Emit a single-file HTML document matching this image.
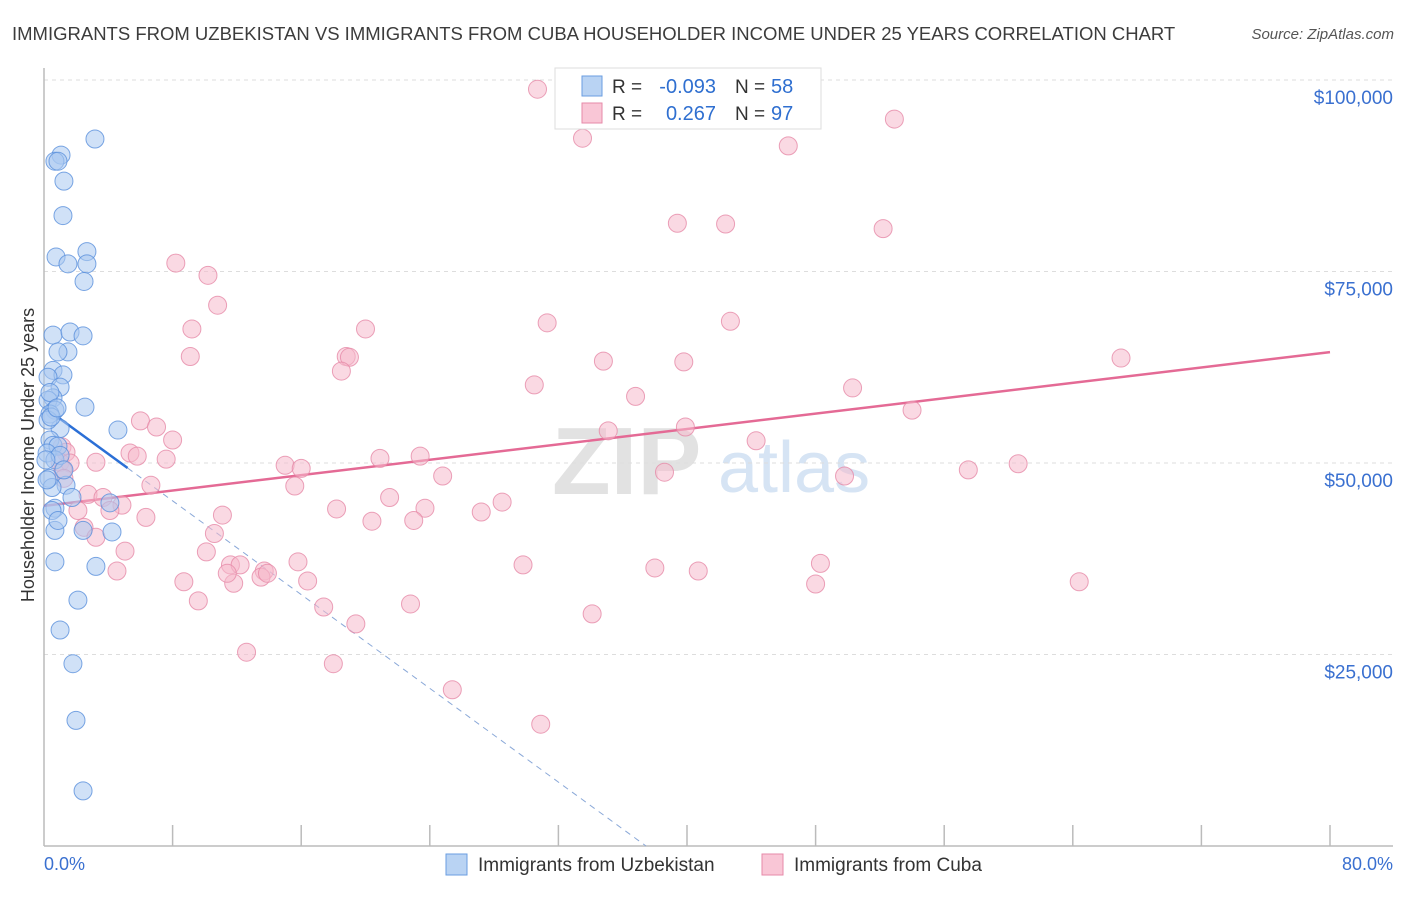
<!DOCTYPE html>
<html><head><meta charset="utf-8">
<style>
body{margin:0;background:#fff;font-family:"Liberation Sans",sans-serif;}
svg text{font-family:"Liberation Sans",sans-serif;}
</style></head>
<body>
<svg id="chart" width="1406" height="892" xmlns="http://www.w3.org/2000/svg">
<text x="12" y="40" font-size="18.5" fill="#3c3c3c">IMMIGRANTS FROM UZBEKISTAN VS IMMIGRANTS FROM CUBA HOUSEHOLDER INCOME UNDER 25 YEARS CORRELATION CHART</text>
<text x="1394" y="39" font-size="15" fill="#555" font-style="italic" text-anchor="end">Source: ZipAtlas.com</text>
<g>
<text x="552" y="494" font-size="96" fill="#e2e2e2" font-family="Liberation Serif" font-weight="bold">ZIP</text>
<text x="718" y="492" font-size="72" fill="#d6e4f4">atlas</text>
</g>
<g id="grid"></g>
<g id="axes"></g>
<g id="trends"></g>
<g id="points"></g>
<text transform="translate(34,455) rotate(-90)" font-size="18" fill="#333" text-anchor="middle">Householder Income Under 25 years</text>
<text x="44" y="870" font-size="18" fill="#3a70d0">0.0%</text>
<text x="1393" y="870" font-size="18" fill="#3a70d0" text-anchor="end">80.0%</text>
<g>
<rect x="555" y="68" width="266" height="61" fill="#fff" stroke="#ddd"/>
<rect x="582" y="76" width="20" height="20" fill="#b9d3f3" stroke="#6a9ee0"/>
<rect x="582" y="103" width="20" height="20" fill="#f9c6d6" stroke="#e68aa8"/>
<text x="612" y="93" font-size="19" fill="#333">R =</text>
<text x="716" y="93" font-size="20" fill="#2f6fd0" text-anchor="end">-0.093</text>
<text x="735" y="93" font-size="19" fill="#333">N =</text>
<text x="771" y="93" font-size="20" fill="#2f6fd0">58</text>
<text x="612" y="120" font-size="19" fill="#333">R =</text>
<text x="716" y="120" font-size="20" fill="#2f6fd0" text-anchor="end">0.267</text>
<text x="735" y="120" font-size="19" fill="#333">N =</text>
<text x="771" y="120" font-size="20" fill="#2f6fd0">97</text>
</g>
<g>
<rect x="446" y="854" width="21" height="21" fill="#b9d3f3" stroke="#6a9ee0"/>
<text x="478" y="871" font-size="19" fill="#333">Immigrants from Uzbekistan</text>
<rect x="762" y="854" width="21" height="21" fill="#f9c6d6" stroke="#e68aa8"/>
<text x="794" y="871" font-size="19" fill="#333">Immigrants from Cuba</text>
</g>
</svg>
<script>
const yTicks=[25000,50000,75000,100000];
const yTickLabels=["$25,000","$50,000","$75,000","$100,000"];
const xTicks=[0,8,16,24,32,40,48,56,64,72,80];
const blueX=[3.17,1.06,0.68,0.87,1.24,1.18,0.75,1.49,2.67,2.67,2.49,0.56,1.62,2.43,1.49,0.87,0.56,1.18,0.25,1.0,0.56,0.25,2.55,0.68,0.37,1.0,4.6,0.37,0.56,0.87,0.19,0.68,0.31,1.37,0.5,1.74,4.1,0.68,2.43,0.68,4.23,0.68,3.23,2.11,1.0,1.8,1.99,2.43,0.25,0.19,0.44,1.0,0.5,0.87,1.24,0.12,0.37,0.81];
const blueY=[92.3,90.2,89.4,89.4,86.8,82.3,76.9,76.0,77.6,76.0,73.7,66.7,67.1,66.6,64.5,64.5,62.1,61.5,61.2,59.9,58.5,58.2,57.3,56.9,56.4,54.5,54.3,53.0,52.3,52.2,51.3,50.4,48.0,47.1,46.8,45.5,44.8,44.1,41.2,41.2,41.0,37.1,36.5,32.1,28.2,23.8,16.4,7.2,55.6,47.8,56.0,51.0,43.8,42.5,49.1,50.4,59.2,57.2];
const pinkX=[30.7,33.5,46.3,52.9,39.4,42.4,52.2,8.2,10.2,10.8,9.2,20.0,31.3,42.7,9.1,18.8,19.0,18.5,34.8,39.8,30.5,36.8,50.3,67.0,54.0,6.0,7.0,8.0,35.1,39.9,44.3,5.35,5.8,7.6,1.12,1.37,1.0,1.62,3.23,15.0,16.0,20.9,23.4,24.8,38.6,57.5,60.6,49.8,1.18,1.24,6.65,15.6,2.74,3.67,4.85,21.5,23.7,28.5,4.1,2.11,6.34,18.2,27.2,11.1,20.4,23.0,2.49,3.23,10.6,5.04,10.1,15.8,11.6,12.2,13.7,4.54,13.5,11.8,8.7,16.4,9.6,17.4,22.8,29.8,38.0,40.7,48.3,48.0,64.4,34.1,19.4,12.6,18.0,25.4,30.9,13.9,11.4];
const pinkY=[98.8,92.4,91.4,94.9,81.3,81.2,80.6,76.1,74.5,70.6,67.5,67.5,68.3,68.5,63.9,63.9,63.8,62.0,63.3,63.2,60.2,58.7,59.8,63.7,56.9,55.5,54.7,53.0,54.2,54.7,52.9,51.3,50.9,50.5,52.1,51.4,50.1,50.0,50.1,49.7,49.3,50.6,50.9,48.3,48.8,49.1,49.9,48.3,49.1,48.0,47.1,47.0,45.9,45.5,44.5,45.5,44.1,44.9,43.8,43.8,42.9,44.0,43.6,43.2,42.4,42.5,41.6,40.3,40.8,38.5,38.4,37.1,36.7,36.7,35.9,35.9,35.1,34.3,34.5,34.6,32.0,31.2,31.6,36.7,36.3,35.9,36.9,34.2,34.5,30.3,29.0,25.3,23.8,20.4,15.9,35.6,35.6];
const blueTrend=[57.3,-1.53];   // intercept (k$), slope per %
const pinkTrend=[44.4,0.251];
const blueSolidEnd=5.2;

const NS="http://www.w3.org/2000/svg";
const xs=v=>44+v*(1286/80);
const ys=v=>846-v*7.66;   // v in thousands
function mk(tag,attrs,parent){const e=document.createElementNS(NS,tag);for(const k in attrs)e.setAttribute(k,attrs[k]);parent.appendChild(e);return e;}
const grid=document.getElementById('grid'),axes=document.getElementById('axes'),trends=document.getElementById('trends'),pts=document.getElementById('points');
yTicks.forEach((t,i)=>{
  const l=mk('line',{x1:44,x2:1393,y1:ys(t/1000),y2:ys(t/1000),stroke:'#ddd','stroke-dasharray':'4,4'},grid);
  
  
  const tx=mk('text',{x:1393,y:ys(t/1000)+24,'font-size':19,fill:'#3a70d0','text-anchor':'end'},grid);
  tx.textContent=yTickLabels[i];
  
  
});
const ya=mk('line',{x1:44,x2:44,y1:68,y2:846,stroke:'#bbb','stroke-width':1.5},axes);


const xa=mk('line',{x1:44,x2:1393,y1:846,y2:846,stroke:'#bbb','stroke-width':1.5},axes);


xTicks.forEach(t=>{
  const tk=mk('line',{x1:xs(t),x2:xs(t),y1:t===0?846:825,y2:846,stroke:'#bbb','stroke-width':1.5},axes);
  
  
});
function drawPts(X,Y,fill,stroke,name){
  X.forEach((x,i)=>{
    const c=mk('circle',{cx:xs(x),cy:ys(Y[i]),r:9,fill:fill,'fill-opacity':0.55,stroke:stroke,'stroke-opacity':0.8,'stroke-width':1},pts);
    
    
  });
}
drawPts(pinkX,pinkY,'#f6b9cc','#e68aa8','cuba-point');
drawPts(blueX,blueY,'#a9c8f0','#5a90dc','uzbekistan-point');
const bxEnd=-blueTrend[0]/blueTrend[1];
const bs=mk('line',{x1:xs(0),y1:ys(blueTrend[0]),x2:xs(blueSolidEnd),y2:ys(blueTrend[0]+blueTrend[1]*blueSolidEnd),stroke:'#2b6fd6','stroke-width':2.5},trends);


const bd=mk('line',{x1:xs(blueSolidEnd),y1:ys(blueTrend[0]+blueTrend[1]*blueSolidEnd),x2:xs(bxEnd),y2:ys(0),stroke:'#8aa8d8','stroke-width':1,'stroke-dasharray':'6,5'},trends);


const pl=mk('line',{x1:xs(0),y1:ys(pinkTrend[0]),x2:xs(80),y2:ys(pinkTrend[0]+pinkTrend[1]*80),stroke:'#e46a95','stroke-width':2.5},trends);


</script>
</body></html>
